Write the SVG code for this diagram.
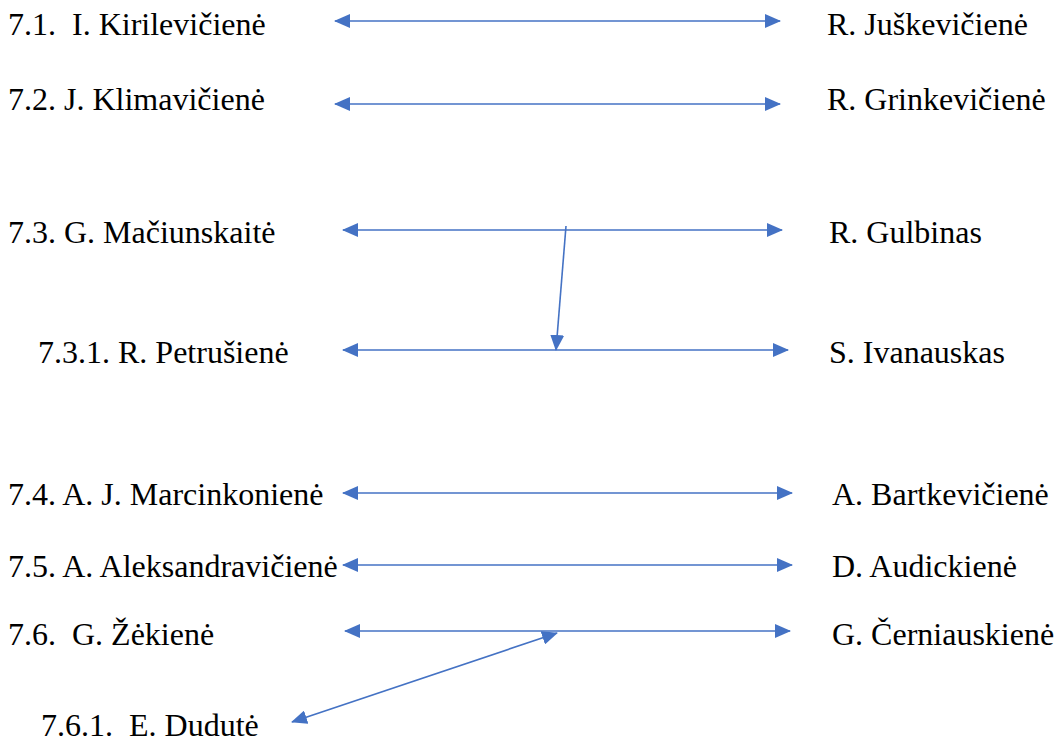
<svg xmlns="http://www.w3.org/2000/svg" width="1055" height="742" viewBox="0 0 1055 742">
<style>
text{font-family:'Liberation Serif','DejaVu Serif',serif;font-size:32px;fill:#000}
.c line{stroke:#4472C4;stroke-width:1.6;fill:none}
</style>
<defs>
<marker id="ah" viewBox="0 0 16 14" refX="15" refY="7" markerWidth="16" markerHeight="14" markerUnits="userSpaceOnUse" orient="auto-start-reverse">
<path d="M0,0 L16,7 L0,14 Z" fill="#4472C4"/>
</marker>
</defs>
<rect width="1055" height="742" fill="#fff"/>
<g font-family="Liberation Serif, serif">
<g id="n71"><text x="8" y="35" xml:space="preserve">7.1.  I. Kirilevičienė</text></g>
<g id="n71r"><text x="827" y="35">R. Juškevičienė</text></g>
<g id="n72"><text x="8" y="110">7.2. J. Klimavičienė</text></g>
<g id="n72r"><text x="827" y="110">R. Grinkevičienė</text></g>
<g id="n73"><text x="8" y="243">7.3. G. Mačiunskaitė</text></g>
<g id="n73r"><text x="829" y="243">R. Gulbinas</text></g>
<g id="n731"><text x="38" y="363">7.3.1. R. Petrušienė</text></g>
<g id="n731r"><text x="829" y="363">S. Ivanauskas</text></g>
<g id="n74"><text x="8" y="505">7.4. A. J. Marcinkonienė</text></g>
<g id="n74r"><text x="832" y="505">A. Bartkevičienė</text></g>
<g id="n75"><text x="8" y="577">7.5. A. Aleksandravičienė</text></g>
<g id="n75r"><text x="832" y="577">D. Audickienė</text></g>
<g id="n76"><text x="8" y="645" xml:space="preserve">7.6.  G. Žėkienė</text></g>
<g id="n76r"><text x="832" y="645">G. Černiauskienė</text></g>
<g id="n761"><text x="41" y="736" xml:space="preserve">7.6.1.  E. Dudutė</text></g>
</g>
<g class="c" id="connectors">
<line x1="335" y1="21" x2="780" y2="21" marker-start="url(#ah)" marker-end="url(#ah)"/>
<line x1="335" y1="104" x2="780" y2="104" marker-start="url(#ah)" marker-end="url(#ah)"/>
<line x1="343" y1="230" x2="782" y2="230" marker-start="url(#ah)" marker-end="url(#ah)"/>
<line x1="343" y1="350" x2="788" y2="350" marker-start="url(#ah)" marker-end="url(#ah)"/>
<line x1="566" y1="226" x2="556" y2="350" marker-end="url(#ah)"/>
<line x1="343" y1="493" x2="792" y2="493" marker-start="url(#ah)" marker-end="url(#ah)"/>
<line x1="343" y1="565" x2="792" y2="565" marker-start="url(#ah)" marker-end="url(#ah)"/>
<line x1="345" y1="631" x2="790" y2="631" marker-start="url(#ah)" marker-end="url(#ah)"/>
<line x1="557" y1="633" x2="292" y2="722" marker-start="url(#ah)" marker-end="url(#ah)"/>
</g>
</svg>
